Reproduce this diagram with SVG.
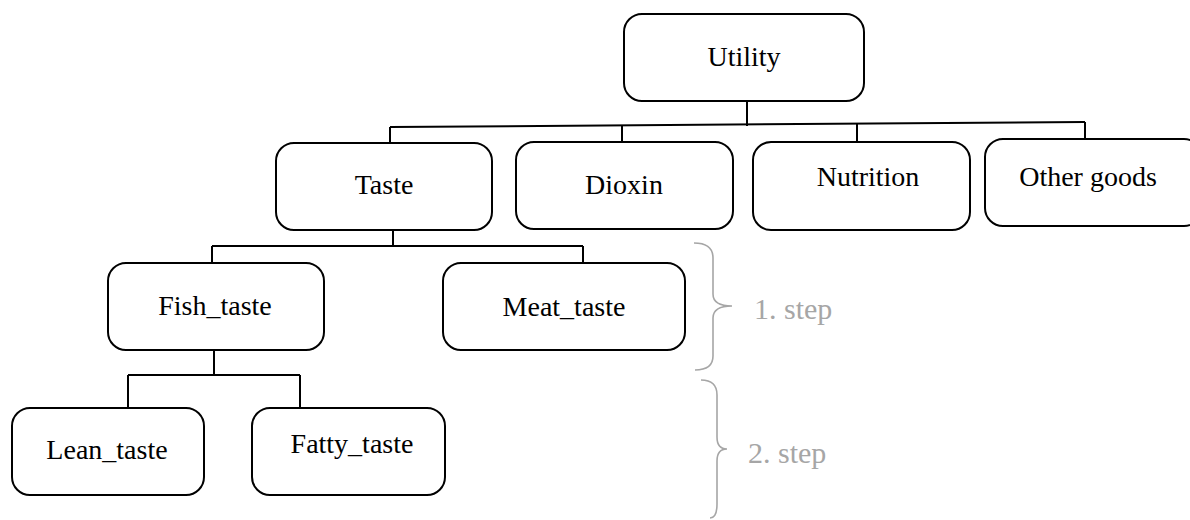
<svg xmlns="http://www.w3.org/2000/svg" width="1190" height="520" viewBox="0 0 1190 520">
<style>
.box{fill:#fff;stroke:#000;stroke-width:2}
.lbl{font-family:"Liberation Serif","Times New Roman",serif;font-size:28px;fill:#000;text-anchor:middle}
.con{fill:none;stroke:#000;stroke-width:2}
.brace{fill:none;stroke:#a6a6a6;stroke-width:1.6}
.step{font-family:"Liberation Serif","Times New Roman",serif;font-size:30px;fill:#a6a6a6}
</style>
<rect width="1190" height="520" fill="#fff"/>
<g id="connectors">
<path class="con" d="M747,101 V126"/>
<path class="con" d="M390,127 L1085,122"/>
<path class="con" d="M390,127 V143"/>
<path class="con" d="M622,125 V142"/>
<path class="con" d="M857,123 V142"/>
<path class="con" d="M1085,122 V139"/>
<path class="con" d="M393,230 V246"/>
<path class="con" d="M212,246 H583"/>
<path class="con" d="M212,246 V263"/>
<path class="con" d="M583,246 V263"/>
<path class="con" d="M214,350 V375"/>
<path class="con" d="M128,375 H300"/>
<path class="con" d="M128,375 V408"/>
<path class="con" d="M300,375 V408"/>
</g>
<g id="utility"><rect class="box" x="624" y="14" width="240" height="87" rx="18"/><text class="lbl" x="744" y="66">Utility</text></g>
<g id="taste"><rect class="box" x="276" y="143" width="216" height="87" rx="18"/><text class="lbl" x="384" y="194">Taste</text></g>
<g id="dioxin"><rect class="box" x="516" y="142" width="217" height="87" rx="18"/><text class="lbl" x="624" y="194">Dioxin</text></g>
<g id="nutrition"><rect class="box" x="753" y="142" width="217" height="88" rx="18"/><text class="lbl" x="868" y="186">Nutrition</text></g>
<g id="other-goods"><rect class="box" x="985" y="139" width="217" height="87" rx="18"/><text class="lbl" x="1088" y="186">Other goods</text></g>
<g id="fish-taste"><rect class="box" x="108" y="263" width="216" height="87" rx="18"/><text class="lbl" x="215" y="315">Fish_taste</text></g>
<g id="meat-taste"><rect class="box" x="443" y="263" width="242" height="87" rx="18"/><text class="lbl" x="564" y="316">Meat_taste</text></g>
<g id="lean-taste"><rect class="box" x="12" y="408" width="192" height="87" rx="18"/><text class="lbl" x="107" y="459">Lean_taste</text></g>
<g id="fatty-taste"><rect class="box" x="252" y="408" width="193" height="87" rx="18"/><text class="lbl" x="352" y="453">Fatty_taste</text></g>
<g id="step1">
<path class="brace" d="M694,243 Q713,243 713,258 L713,294 Q713,306 732,306 Q713,306 713,318 L713,356 Q713,370 695,370"/>
<text class="step" x="754" y="319">1. step</text>
</g>
<g id="step2">
<path class="brace" d="M701,380 Q717,380 717,395 L717,437 Q717,449 727,449 Q717,449 717,461 L717,504 Q717,518 710,518"/>
<text class="step" x="748" y="463">2. step</text>
</g>
</svg>
